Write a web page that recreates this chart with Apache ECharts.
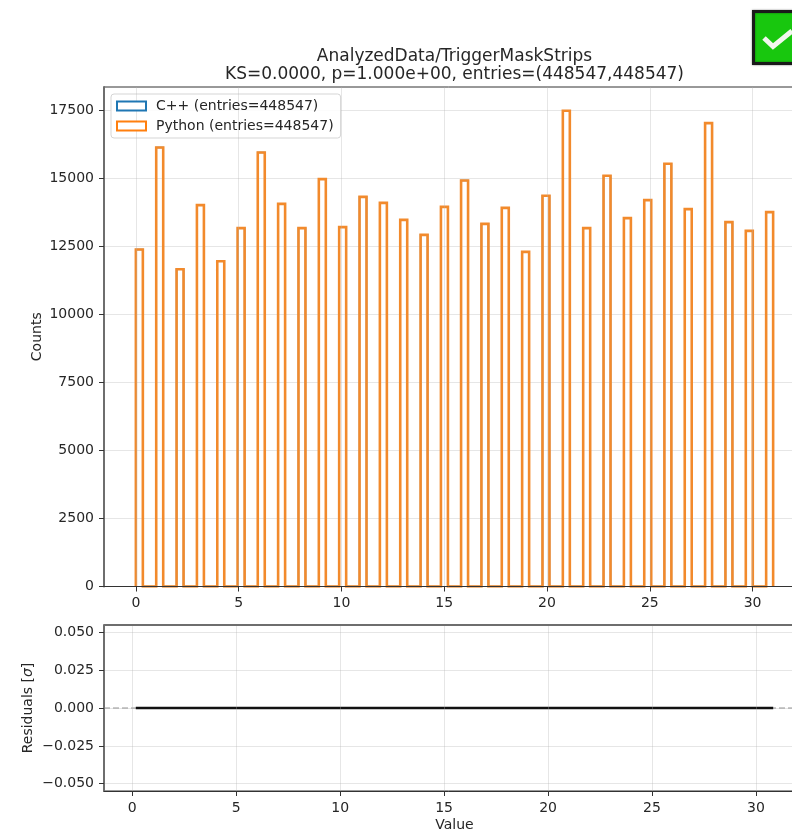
<!DOCTYPE html>
<html>
<head>
<meta charset="utf-8">
<style>html,body{margin:0;padding:0;background:#fff}#c{width:792px;height:833px}</style>
<script src="https://cdn.jsdelivr.net/npm/echarts@6/dist/echarts.min.js"></script>
</head>
<body>
<div id="c"></div>
<script>
const titleText = 'AnalyzedData/TriggerMaskStrips\nKS=0.0000, p=1.000e+00, entries=(448547,448547)';
const binStarts = [0,0.99,1.98,2.97,3.96,4.95,5.93,6.92,7.91,8.90,9.89,10.88,11.87,12.86,13.85,14.84,15.82,16.81,17.80,18.79,19.78,20.77,21.76,22.75,23.74,24.73,25.71,26.70,27.69,28.68,29.67,30.66];
const binWidth = 0.34;
const cppCounts = [12382,16133,11661,14014,11955,13169,15948,14062,13169,14970,13205,14320,14099,13474,12923,13952,14920,13327,13915,12298,14357,17482,13169,15092,13537,14198,15533,13867,17029,13389,13070,13757];
const pythonCounts = [12382,16133,11661,14014,11955,13169,15948,14062,13169,14970,13205,14320,14099,13474,12923,13952,14920,13327,13915,12298,14357,17482,13169,15092,13537,14198,15533,13867,17029,13389,13070,13757];
const residuals = [0,0,0,0,0,0,0,0,0,0,0,0,0,0,0,0,0,0,0,0,0,0,0,0,0,0,0,0,0,0,0,0];
const xTicks = [0,5,10,15,20,25,30];
const countTicks = [0,2500,5000,7500,10000,12500,15000,17500];
const residualTicks = [-0.05,-0.025,0,0.025,0.05];
const seriesNames = ['C++ (entries=448547)','Python (entries=448547)'];

const FONT = 'DejaVu Sans';
const TXT = '#262626';
const AXIS = '#333333';
const SPINE = '#6e6e6e';
const GRIDC = 'rgba(176,176,176,0.32)';

function stepPath(counts){
  const pts = [];
  counts.forEach((v,i)=>{
    const l = binStarts[i], r = l + binWidth;
    pts.push([l,0],[l,v],[r,v],[r,0]);
  });
  return pts;
}
function xAxisOpt(idx,min,max,name){
  return {
    type:'value', gridIndex:idx, min, max, position:'bottom', z:4,
    name:name||'', nameLocation:'middle', nameGap:27,
    nameTextStyle:{fontFamily:FONT,fontSize:14,color:TXT},
    axisLine:{show:true,onZero:false,lineStyle:{color:AXIS,width:1}},
    axisTick:{show:true,length:5,customValues:xTicks,lineStyle:{color:AXIS,width:1}},
    axisLabel:{customValues:xTicks,margin:10,fontFamily:FONT,fontSize:14,color:TXT,
      formatter:v=>String(v)},
    splitLine:{show:true,lineStyle:{color:GRIDC,width:1}}
  };
}
function yAxisOpt(idx,min,max,ticks,name,gap,fmt){
  return {
    type:'value', gridIndex:idx, min, max,
    name, nameLocation:'middle', nameGap:gap, nameMoveOverlap:false,
    nameTextStyle:{fontFamily:FONT,fontSize:14,color:TXT,rich:{i:{fontFamily:FONT,fontSize:14,fontStyle:'italic',color:TXT}}},
    axisLine:{show:true,onZero:false,lineStyle:{color:SPINE,width:2}},
    axisTick:{show:true,length:5,customValues:ticks,lineStyle:{color:AXIS,width:1}},
    axisLabel:{customValues:ticks,margin:10,padding:[2,0,0,0],fontFamily:FONT,fontSize:14,color:TXT,formatter:fmt},
    splitLine:{show:true,lineStyle:{color:GRIDC,width:1}}
  };
}
const chart = echarts.init(document.getElementById('c'),null,{renderer:'canvas'});
chart.setOption({
  animation:false,
  backgroundColor:'#fff',
  title:{text:titleText,left:449.5,top:42,textAlign:'center',
    textStyle:{fontFamily:FONT,fontSize:17,fontWeight:'normal',color:TXT,lineHeight:18.5}},
  legend:{
    left:111,top:94,orient:'vertical',padding:[5,7,5,5],itemWidth:29,itemHeight:9,itemGap:6,
    icon:'rect',backgroundColor:'rgba(255,255,255,0.85)',borderColor:'#d5d5d5',borderWidth:1,borderRadius:3,
    textStyle:{fontFamily:FONT,fontSize:14,color:TXT,padding:[0,0,0,5]},
    data:[
      {name:seriesNames[0],itemStyle:{color:'#fff',borderColor:'#1f77b4',borderWidth:2}},
      {name:seriesNames[1],itemStyle:{color:'#fff',borderColor:'#ff7f0e',borderWidth:2}}
    ]
  },
  grid:[
    {left:104,top:87,width:701,height:499.5,outerBoundsMode:'none',show:true,borderColor:AXIS,borderWidth:1,backgroundColor:'transparent'},
    {left:104,top:625,width:701,height:166,outerBoundsMode:'none',show:true,borderColor:AXIS,borderWidth:1,backgroundColor:'transparent'}
  ],
  xAxis:[xAxisOpt(0,-1.55,32.55),xAxisOpt(1,-1.36,32.36,'Value')],
  yAxis:[
    yAxisOpt(0,0,18356,countTicks,'Counts',60,v=>String(v)),
    yAxisOpt(1,-0.0548,0.0548,residualTicks,'Residuals [{i|σ}]',69,v=>(v<0?'\u2212':'')+Math.abs(v).toFixed(3))
  ],
  series:[
    {name:seriesNames[0],type:'line',xAxisIndex:0,yAxisIndex:0,data:stepPath(cppCounts),showSymbol:false,symbol:'none',clip:true,
      lineStyle:{color:'#1f77b4',width:1.5,join:'miter'},itemStyle:{color:'#1f77b4'}},
    {name:seriesNames[1],type:'line',xAxisIndex:0,yAxisIndex:0,data:stepPath(pythonCounts),showSymbol:false,symbol:'none',clip:true,
      lineStyle:{color:'#f28a2c',width:2.6,join:'miter'},itemStyle:{color:'#ff7f0e'}},
    {name:'zero',type:'line',xAxisIndex:1,yAxisIndex:1,data:[[-1.36,0],[32.36,0]],showSymbol:false,symbol:'none',
      lineStyle:{color:'rgba(128,128,128,0.55)',width:1.5,type:[6,3]},z:1},
    {name:'residuals',type:'line',xAxisIndex:1,yAxisIndex:1,
      data:residuals.map((v,i)=>[binStarts[i]+binWidth/2,v]),showSymbol:false,symbol:'none',
      lineStyle:{color:'#111',width:2.4},z:3}
  ],
  graphic:[
    {type:'line',z:5,shape:{x1:104,y1:625,x2:792,y2:625},style:{stroke:SPINE,lineWidth:2}},
    {type:'rect',left:752,top:10,shape:{width:48,height:52},z:10,
      style:{fill:'#18c70e',stroke:'#1a1a1a',lineWidth:3,shadowBlur:2,shadowColor:'rgba(0,0,0,0.5)'}},
    {type:'polyline',z:11,shape:{points:[[764,38],[773,46.5],[792,31]]},
      style:{fill:null,stroke:'#f2f7ee',lineWidth:5}}
  ]
});
</script>
</body>
</html>
